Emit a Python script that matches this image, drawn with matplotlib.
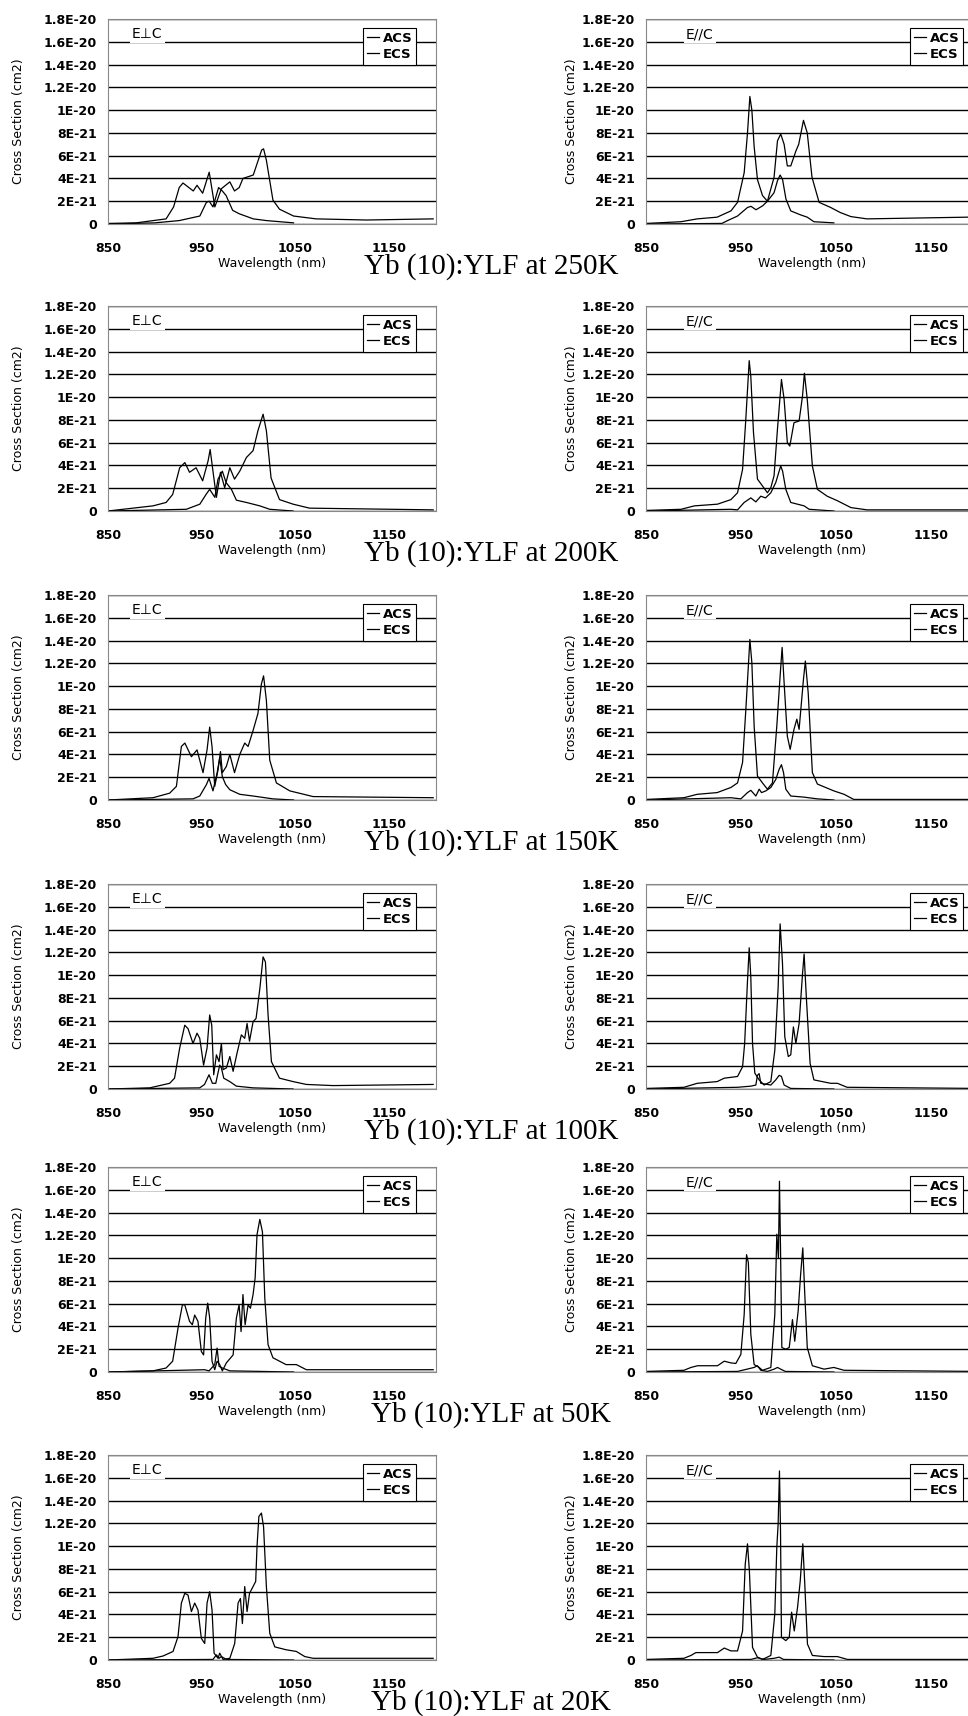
import matplotlib
matplotlib.use("Agg")
import matplotlib.pyplot as plt
import numpy as np

# cross sections in units of 1e-21 cm2, (wavelength nm, value)
perp_250_acs = [(850, 0), (900, 0.1), (926, 0.3), (948, 0.7), (955, 1.9), (958, 2.0), (962, 1.5), (968, 3.2),
                (972, 2.9), (976, 2.5), (983, 1.2), (990, 0.9), (1005, 0.45), (1019, 0.3), (1048, 0.1)]
perp_250_ecs = [(850, 0.05), (880, 0.1), (912, 0.45), (920, 1.5), (926, 3.2), (930, 3.6), (941, 2.9), (945, 3.4),
                (951, 2.7), (958, 4.55), (964, 1.5), (971, 3.1), (980, 3.7), (985, 2.9), (990, 3.2), (994, 4.0),
                (1005, 4.3), (1014, 6.5), (1016, 6.6), (1019, 5.6), (1026, 2.1), (1033, 1.3), (1048, 0.7),
                (1072, 0.45), (1126, 0.35), (1197, 0.45)]
par_250_acs = [(850, 0), (930, 0.05), (936, 0.3), (946.5, 0.7), (957, 1.45), (960.7, 1.55), (966, 1.25), (973, 1.6),
               (978, 2.0), (985, 2.75), (988.6, 3.8), (991.4, 4.3), (994, 3.9), (997.5, 2.2), (1002.6, 1.15),
               (1013, 0.8), (1020, 0.6), (1027, 0.2), (1048, 0.1)]
par_250_ecs = [(850, 0.05), (887, 0.2), (904, 0.45), (925, 0.6), (939.5, 1.15), (946.5, 1.9), (953.5, 4.5), (957, 8.0),
               (959.5, 11.2), (961.6, 10.0), (964, 6.8), (967.5, 3.9), (972.8, 2.5), (978, 2.0), (985, 4.1),
               (988.6, 7.3), (992, 7.9), (995.6, 7.0), (999, 5.1), (1002.6, 5.1), (1008, 6.4), (1011, 7.0),
               (1016, 9.1), (1020, 8.0), (1025, 4.1), (1032.5, 1.9), (1044.7, 1.45), (1055, 1.0), (1066, 0.65),
               (1083, 0.45), (1188.6, 0.6), (1200, 0.65)]

perp_200_acs = [(850, 0), (933.6, 0.15), (948, 0.6), (955, 1.5), (958.5, 1.9), (964, 1.2), (967.4, 2.8), (972, 3.5),
                (976, 2.5), (981.7, 1.9), (987, 0.95), (997.7, 0.75), (1012, 0.45), (1022.6, 0.15), (1047.5, 0)]
perp_200_ecs = [(850, 0), (898, 0.45), (912, 0.75), (919, 1.45), (926.5, 3.8), (932, 4.25), (937, 3.4), (944, 3.8),
                (951, 2.65), (956.8, 4.4), (959, 5.4), (962, 3.5), (965.7, 1.2), (970, 3.4), (974.5, 2.05), (980, 3.8),
                (985, 2.8), (990.6, 3.5), (997.7, 4.7), (1004.8, 5.3), (1010, 7.05), (1015.5, 8.5), (1019, 7.05),
                (1024, 2.9), (1033, 1.0), (1047.5, 0.6), (1065, 0.25), (1197, 0.1)]
par_200_acs = [(850, 0), (939.5, 0.15), (946.5, 0.1), (953.5, 0.75), (960.5, 1.15), (965.8, 0.8), (971, 1.3),
               (976, 1.15), (981.6, 1.6), (986.8, 2.5), (992, 3.95), (994, 3.5), (997.4, 1.9), (1002.6, 0.75),
               (1016.7, 0.45), (1022, 0.15), (1048, 0)]
par_200_ecs = [(850, 0.05), (887, 0.15), (901, 0.45), (925.4, 0.6), (939.5, 1.0), (946.5, 1.6), (951.8, 3.65),
               (955, 7.75), (958.8, 13.2), (960.5, 11.8), (963.3, 6.9), (967.5, 2.8), (972.8, 2.2), (978, 1.6),
               (981.6, 2.05), (985, 3.1), (988.6, 7.2), (992.8, 11.55), (995.6, 9.8), (999, 6.0), (1001.6, 5.7),
               (1006, 7.75), (1011.4, 7.9), (1015, 10.1), (1017, 12.1), (1020, 9.8), (1025.4, 3.95), (1030.7, 1.9),
               (1041, 1.3), (1051.8, 0.9), (1066, 0.3), (1083, 0.1), (1200, 0.1)]

perp_150_acs = [(850, 0), (940.7, 0.1), (947.9, 0.35), (955, 1.35), (957.8, 1.9), (962, 0.8), (966.4, 2.35),
                (969.2, 3.7), (972, 2.05), (975.6, 1.35), (980, 0.9), (990.6, 0.5), (1004.8, 0.35), (1026, 0.1),
                (1048, 0)]
perp_150_ecs = [(850, 0), (898, 0.2), (915.8, 0.6), (923, 1.2), (928.3, 4.7), (932, 5.0), (939, 3.8), (945, 4.4),
                (951.4, 2.4), (955.7, 4.4), (958.5, 6.4), (961, 4.7), (963.9, 1.2), (967.4, 2.65), (970, 4.25),
                (972, 2.4), (976.3, 2.95), (980, 4.0), (985, 2.4), (990.6, 4.0), (995.9, 5.0), (999.5, 4.7),
                (1004.8, 6.1), (1010, 7.6), (1013.7, 10.2), (1016, 10.9), (1019, 8.75), (1022.6, 3.5), (1029.7, 1.5),
                (1044, 0.8), (1068.9, 0.3), (1197, 0.2)]
par_150_acs = [(850, 0), (939.5, 0.2), (950, 0.1), (957, 0.65), (960.5, 0.85), (965.8, 0.35), (969.3, 0.95),
               (971.8, 0.65), (976.3, 0.8), (981.6, 1.1), (986.8, 1.8), (990.4, 2.7), (992.8, 3.1), (995, 2.4),
               (997.4, 0.95), (1002.6, 0.35), (1016.7, 0.25), (1030.7, 0.1), (1048, 0)]
par_150_ecs = [(850, 0.05), (890, 0.2), (904, 0.5), (925, 0.65), (939.5, 1.1), (946.5, 1.5), (951.8, 3.3),
               (955.3, 8.0), (959.5, 14.1), (961.6, 12.05), (964, 6.5), (967.5, 2.1), (972.8, 1.5), (978, 0.95),
               (983.3, 1.5), (987.9, 6.5), (991.4, 10.9), (993.5, 13.4), (995.6, 10.3), (999, 5.6), (1002, 4.45),
               (1006, 6.2), (1009, 7.1), (1011.4, 6.2), (1016, 10.6), (1018, 12.2), (1021, 9.4), (1025.4, 2.4),
               (1030.7, 1.4), (1048, 0.8), (1058.8, 0.5), (1069, 0.05), (1200, 0.05)]

perp_100_acs = [(850, 0), (947.9, 0.1), (953, 0.4), (957.8, 1.25), (961.4, 0.5), (965, 0.5), (969.2, 2.1),
                (971, 1.85), (973.5, 0.95), (980, 0.65), (987, 0.25), (1004.8, 0.1), (1047.5, 0)]
perp_100_ecs = [(850, 0), (894.5, 0.1), (915.8, 0.5), (921, 0.95), (926.5, 3.6), (931.9, 5.6), (935.4, 5.3),
                (940.7, 4.0), (945, 4.9), (947.9, 4.45), (952, 2.1), (955.7, 3.6), (958.5, 6.5), (960.7, 5.6),
                (962.8, 1.25), (965.7, 3.0), (968.5, 2.4), (971, 4.0), (972.8, 1.7), (976.3, 1.85), (980, 2.85),
                (983.5, 1.55), (987.7, 3.15), (992.3, 4.75), (995.9, 4.45), (998.4, 5.75), (1001, 4.2),
                (1004.8, 5.9), (1008, 6.2), (1012, 8.8), (1015.5, 11.6), (1018, 11.15), (1020.8, 6.5),
                (1024.4, 2.4), (1033, 0.95), (1047.5, 0.65), (1061.7, 0.4), (1090, 0.3), (1197, 0.4)]
par_100_acs = [(850, 0), (946.5, 0.15), (960.5, 0.25), (965.8, 0.35), (967.5, 1.2), (969.3, 1.35), (971, 0.5),
               (974.6, 0.45), (981.6, 0.35), (986.8, 0.8), (990.4, 1.2), (992.8, 1.1), (995.6, 0.35),
               (1002.6, 0.05), (1048, 0)]
par_100_ecs = [(850, 0.05), (890, 0.15), (904, 0.5), (925, 0.65), (932.5, 0.95), (946.5, 1.1), (951.8, 1.95),
               (954, 4.0), (957, 9.5), (958.8, 12.4), (960.5, 9.8), (962.3, 4.0), (964.7, 1.4), (969.3, 0.8),
               (974.6, 0.35), (981.6, 0.65), (985.8, 3.4), (989.3, 8.9), (991.4, 14.5), (993.9, 11.0),
               (996.3, 4.6), (1000, 2.85), (1002.6, 3.0), (1005.4, 5.45), (1008, 4.0), (1011.4, 5.75),
               (1015, 10.1), (1016.7, 11.85), (1019, 8.1), (1023, 2.25), (1027, 0.8), (1044.7, 0.5),
               (1051.8, 0.5), (1062, 0.15), (1200, 0.05)]

perp_50_acs = [(850, 0), (953, 0.2), (957.8, 0.1), (963.9, 0.65), (966.4, 2.1), (968.5, 0.5), (972, 0.35),
               (980, 0.1), (1048, 0)]
perp_50_ecs = [(850, 0), (898, 0.1), (912, 0.35), (919, 0.95), (924.7, 3.85), (929.4, 5.9), (931.9, 5.9),
               (937, 4.45), (940, 4.15), (942.5, 5.0), (946, 4.45), (949.6, 1.8), (952, 1.5), (954.3, 4.75),
               (956.4, 6.05), (958.5, 4.75), (961, 0.95), (963.9, 0.2), (966.4, 0.95), (969.2, 0.65), (972, 0.1),
               (976.3, 0.8), (983.5, 1.5), (987, 4.75), (989.9, 5.9), (992, 3.55), (994, 6.8), (996.3, 4.15),
               (999.5, 5.9), (1002, 5.6), (1004.8, 6.8), (1007, 8.25), (1009, 12.05), (1012, 13.4),
               (1014.8, 12.3), (1017.3, 6.5), (1020.8, 2.4), (1026, 1.25), (1040, 0.65), (1051, 0.65),
               (1061.7, 0.2), (1197, 0.2)]
par_50_acs = [(850, 0), (946.5, 0.05), (964, 0.4), (967.5, 0.55), (971, 0.15), (978, 0.05), (985, 0.25),
              (988.6, 0.4), (992, 0.25), (997, 0.05), (1048, 0)]
par_50_ecs = [(850, 0.05), (890, 0.15), (897.4, 0.4), (904.4, 0.55), (925.4, 0.55), (932.5, 0.95), (939.5, 0.8),
              (944.7, 0.75), (950, 1.55), (953.5, 5.05), (956, 10.3), (957.9, 9.6), (960.5, 3.3), (964, 0.65),
              (969.3, 0.4), (972.8, 0.15), (981.6, 0.4), (985.8, 5.05), (987.9, 12.1), (989.6, 10.0),
              (990.7, 16.75), (991.8, 10.9), (993.2, 2.15), (997.4, 2.0), (1001, 2.15), (1004.4, 4.6),
              (1006.8, 2.7), (1010.4, 5.35), (1013, 8.55), (1015.3, 10.9), (1017.4, 6.8), (1020, 2.15),
              (1025.4, 0.55), (1037.7, 0.25), (1048, 0.4), (1058.8, 0.15), (1200, 0.05)]

perp_20_acs = [(850, 0), (962, 0.05), (965.7, 0.45), (968.5, 0.15), (971, 0.3), (976.3, 0.05), (1048, 0)]
perp_20_ecs = [(850, 0), (898, 0.15), (908.7, 0.35), (919.4, 0.75), (924.7, 2.05), (928.3, 5.0), (931.9, 5.85),
               (935.4, 5.7), (939, 4.25), (942.5, 5.0), (946, 4.4), (949.6, 1.9), (953.2, 1.45), (955.7, 5.0),
               (958.5, 6.0), (961, 4.4), (963.2, 0.6), (967.4, 0.15), (969.2, 0.6), (972.8, 0.05), (980, 0.15),
               (985.2, 1.45), (988.8, 5.0), (991.3, 5.4), (993.4, 3.2), (995.9, 6.45), (998.4, 4.25), (1001, 5.85),
               (1004.8, 6.45), (1007.6, 6.9), (1009, 9.95), (1011, 12.6), (1013.7, 12.9), (1016, 11.7),
               (1019, 6.45), (1022.6, 2.35), (1028, 1.15), (1040, 0.9), (1051, 0.75), (1060, 0.3),
               (1068.9, 0.15), (1197, 0.15)]
par_20_acs = [(850, 0), (960.5, 0.05), (967.5, 0.2), (974.6, 0.05), (985, 0.15), (990.4, 0.25), (995, 0.05),
              (1048, 0)]
par_20_ecs = [(850, 0.05), (890, 0.15), (897.4, 0.4), (902.6, 0.65), (925.4, 0.65), (932.5, 1.05), (939.5, 0.8),
              (946.5, 0.8), (951.8, 2.55), (954.6, 8.4), (957, 10.2), (959, 7.8), (962.3, 1.1), (967.5, 0.25),
              (972.8, 0.05), (981.6, 0.4), (985.8, 4.05), (987.9, 9.9), (989.3, 11.95), (990.7, 16.6),
              (991.8, 11.35), (992.8, 2.0), (997.4, 1.7), (1001, 2.0), (1003.5, 4.2), (1006.3, 2.55),
              (1009.8, 4.65), (1012.6, 6.95), (1015.3, 10.2), (1017.4, 6.65), (1020.2, 1.4), (1025.4, 0.4),
              (1037.7, 0.3), (1051.8, 0.3), (1062.3, 0.05), (1200, 0.05)]

temps = ["250K", "200K", "150K", "100K", "50K", "20K"]
perp_rows = [(perp_250_acs, perp_250_ecs), (perp_200_acs, perp_200_ecs), (perp_150_acs, perp_150_ecs),
             (perp_100_acs, perp_100_ecs), (perp_50_acs, perp_50_ecs), (perp_20_acs, perp_20_ecs)]
par_rows = [(par_250_acs, par_250_ecs), (par_200_acs, par_200_ecs), (par_150_acs, par_150_ecs),
            (par_100_acs, par_100_ecs), (par_50_acs, par_50_ecs), (par_20_acs, par_20_ecs)]

yticks = np.arange(0, 19, 2)
ytick_labels = ["0", "2E-21", "4E-21", "6E-21", "8E-21", "1E-20", "1.2E-20", "1.4E-20", "1.6E-20", "1.8E-20"]
xticks = [850, 950, 1050, 1150]

W, H = 968, 1716
fig = plt.figure(figsize=(W / 100, H / 100), dpi=100)
fig.patch.set_facecolor("white")

row_tops = [19, 306, 595, 884, 1167, 1455]
ax_h = 205


def make_axes(x0, x1, top):
    return fig.add_axes([x0 / W, 1 - (top + ax_h) / H, (x1 - x0) / W, ax_h / H])


def draw_panel(ax, acs, ecs, tag, tag_x, ylab_x, leg_x):
    a = np.array(acs)
    e = np.array(ecs)
    ax.plot(a[:, 0], a[:, 1], color="black", lw=0.9, label="ACS")
    ax.plot(e[:, 0], e[:, 1], color="black", lw=0.9, label="ECS")
    ax.set_xlim(850, 1200)
    ax.set_ylim(0, 18)
    ax.set_yticks(yticks)
    ax.set_yticklabels(ytick_labels)
    ax.set_xticks(xticks)
    ax.set_xticklabels([str(t) for t in xticks])
    ax.tick_params(length=0, labelsize=9, pad=8)
    ax.tick_params(axis="x", pad=13)
    for lab in ax.get_xticklabels() + ax.get_yticklabels():
        lab.set_fontweight("bold")
    ax.grid(axis="y", color="black", lw=1.0)
    ax.set_axisbelow(True)
    for s in ax.spines.values():
        s.set_color("#888888")
        s.set_linewidth(0.8)
    ax.text(0.5, -0.195, "Wavelength (nm)", transform=ax.transAxes, ha="center", va="center", fontsize=9)
    ax.text(ylab_x, 0.5, "Cross Section (cm2)", transform=ax.transAxes, rotation=90,
            ha="center", va="center", fontsize=9)
    ax.text(tag_x, 0.925, tag, transform=ax.transAxes, ha="left", va="center", fontsize=10,
            bbox=dict(facecolor="white", edgecolor="none", pad=1.5))
    leg = ax.legend(loc="upper left", bbox_to_anchor=(leg_x, 0.958), borderaxespad=0, fancybox=False,
                    edgecolor="black", framealpha=1, handlelength=0.9, handletextpad=0.3,
                    labelspacing=0.25, borderpad=0.3, prop={"size": 9.5, "weight": "bold"})
    leg.get_frame().set_linewidth(0.8)


for i, t in enumerate(temps):
    top = row_tops[i]
    axl = make_axes(108, 436, top)
    draw_panel(axl, perp_rows[i][0], perp_rows[i][1], "E\u22a5C", 0.073, -0.274, 0.777)
    axr = make_axes(646, 978, top)
    draw_panel(axr, par_rows[i][0], par_rows[i][1], "E//C", 0.12, -0.223, 0.795)
    fig.text(491 / W, 1 - (top + ax_h + 43) / H, "Yb (10):YLF at " + t, ha="center", va="center",
             fontsize=21, family="Liberation Serif")

fig.savefig("out.png", dpi=100, facecolor="white")
